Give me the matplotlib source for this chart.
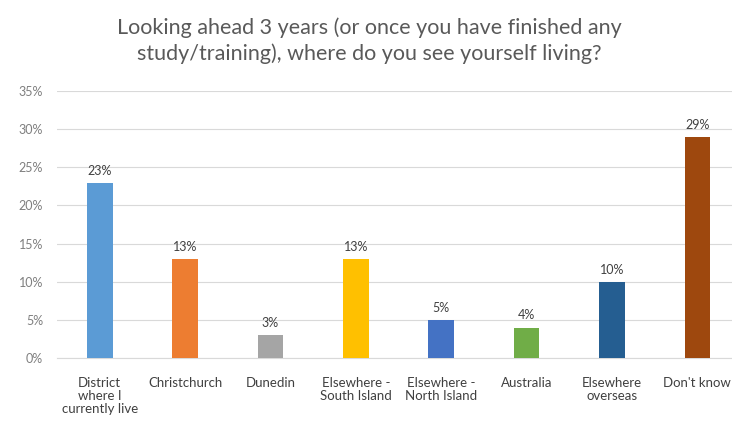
import matplotlib.pyplot as plt

categories = ["District\nwhere I\ncurrently live", "Christchurch", "Dunedin",
              "Elsewhere -\nSouth Island", "Elsewhere -\nNorth Island", "Australia",
              "Elsewhere\noverseas", "Don't know"]
values = [23, 13, 3, 13, 5, 4, 10, 29]
colors = ["#5B9BD5", "#ED7D31", "#A5A5A5", "#FFC000", "#4472C4", "#70AD47", "#255E91", "#9E480E"]

plt.rcParams['font.family'] = ['Lato', 'DejaVu Sans']

fig = plt.figure(figsize=(7.32, 4.21), dpi=100)
ax = fig.add_axes([0.078, 0.1496, 0.933, 0.634])

x = list(range(len(categories)))
bars = ax.bar(x, values, width=0.3, color=colors, zorder=3)
for b, v in zip(bars, values):
    ax.text(b.get_x() + b.get_width() / 2, v + 0.8, "%d%%" % v,
            ha='center', va='bottom', fontsize=9, color='#404040')

ax.set_ylim(0, 35)
ax.set_xlim(-0.5, 7.5)
ax.set_yticks(range(0, 36, 5))
ax.set_yticklabels(["%d%%" % t for t in range(0, 36, 5)])
ax.set_xticks(x)
ax.set_xticklabels(categories, fontsize=9.5, color='#404040', linespacing=1.1)
ax.tick_params(axis='y', colors='#7f7f7f', labelsize=9, length=0, pad=10)
ax.tick_params(axis='x', length=0, pad=14)
ax.grid(axis='y', color='#d9d9d9', linewidth=0.8, zorder=0)
for s in ['top', 'right', 'left']:
    ax.spines[s].set_visible(False)
ax.spines['bottom'].set_color('#d9d9d9')

fig.text(0.504, 0.903, "Looking ahead 3 years (or once you have finished any\nstudy/training), where do you see yourself living?",
         ha='center', va='center', fontsize=15.5, color='#595959', linespacing=1.35)

fig.savefig("out.png", dpi=100)
